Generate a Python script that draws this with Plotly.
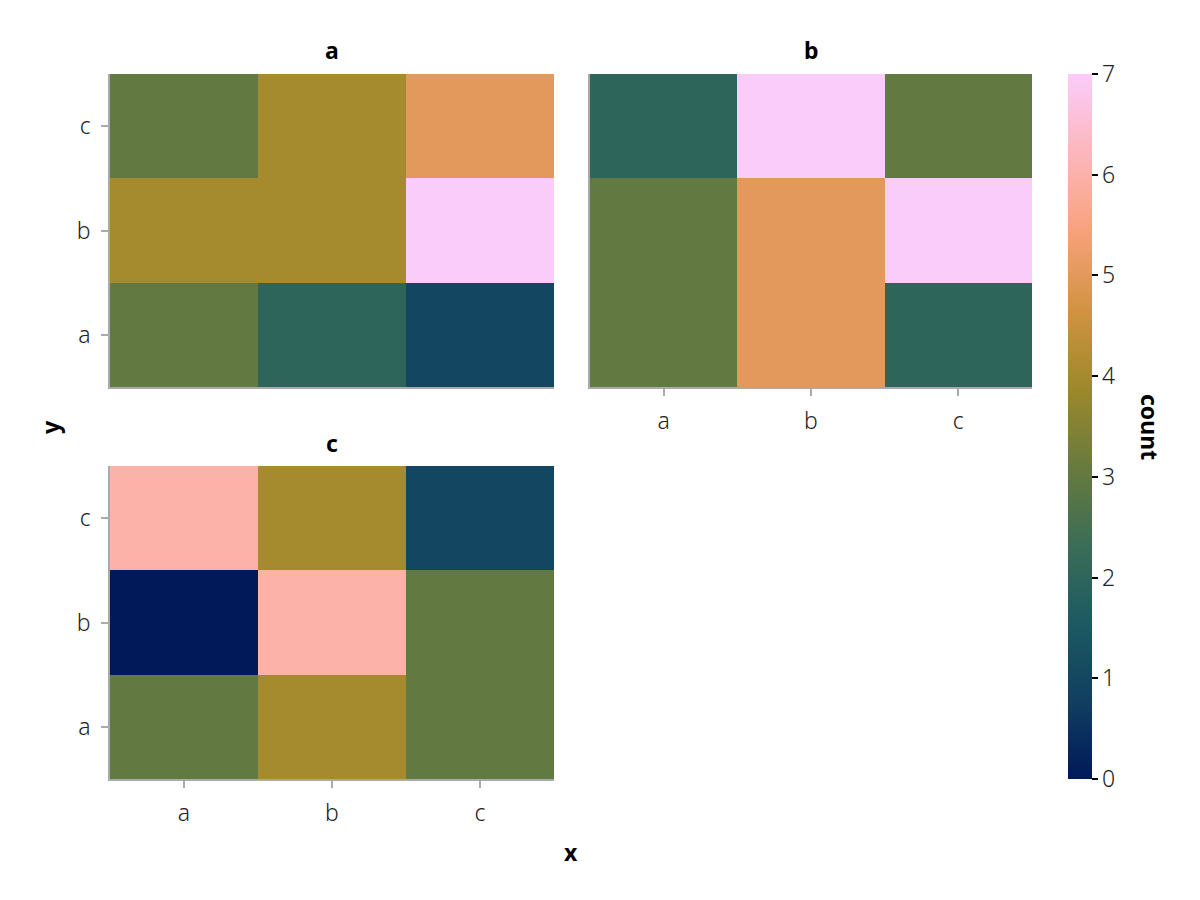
import plotly.graph_objects as go

cats = ["a", "b", "c"]
panels = ["a", "b", "c"]
# z[row=y][col=x], rows ordered y = a, b, c
z_a = [[3, 2, 1], [4, 4, 7], [3, 4, 5]]
z_b = [[3, 5, 2], [3, 5, 7], [2, 7, 3]]
z_c = [[3, 4, 3], [0, 6, 3], [6, 4, 1]]
zs = [z_a, z_b, z_c]

batlow = ["#011959", "#103F60", "#1C5A62", "#3C6D56", "#687B3E",
          "#9D892B", "#D29343", "#F8A17B", "#FDB7BC", "#FACCFA"]
colorscale = [[i / (len(batlow) - 1), c] for i, c in enumerate(batlow)]

W, H = 1200, 900
OFF = 8  # browser body margin
FONT = "Noto Sans"
AX = "#AAAAAA"
TICKFONT = dict(family=FONT, size=23, color="#222", weight=300)

def fx(px):
    return (px - OFF) / W

def fy(py):
    return 1 - (py - OFF) / H

fig = go.Figure()
doms = [
    ([fx(110), fx(554)], [fy(387), fy(74)]),
    ([fx(590), fx(1032)], [fy(387), fy(74)]),
    ([fx(110), fx(554)], [fy(779), fy(466)]),
]
title_pos = [(332, 50), (811, 50), (332, 443)]
show_x = [False, True, True]
show_y = [True, False, True]

for i, (z, (xd, yd)) in enumerate(zip(zs, doms)):
    n = "" if i == 0 else str(i + 1)
    fig.add_trace(go.Heatmap(x=cats, y=cats, z=z, coloraxis="coloraxis",
                             xaxis="x" + n, yaxis="y" + n, xgap=0, ygap=0))
    common = dict(showgrid=False, zeroline=False, showline=True, linecolor=AX,
                  linewidth=1.5, tickfont=TICKFONT, ticklabelstandoff=6,
                  type="category", fixedrange=True)
    fig.layout["xaxis" + n] = dict(domain=xd, anchor="y" + n,
                                   ticks="outside" if show_x[i] else "",
                                   ticklen=7, tickwidth=1.5, tickcolor=AX,
                                   showticklabels=show_x[i], **common)
    fig.layout["yaxis" + n] = dict(domain=yd, anchor="x" + n,
                                   ticks="outside" if show_y[i] else "",
                                   ticklen=7, tickwidth=1.5, tickcolor=AX,
                                   showticklabels=show_y[i], **common)

def ann(text, px, py, angle=0):
    return dict(text=text, x=fx(px), y=fy(py), xref="paper", yref="paper",
                xanchor="center", yanchor="middle", showarrow=False, textangle=angle,
                font=dict(family=FONT, size=23, color="black"))

annots = []
for name, (tx, ty) in zip(panels, title_pos):
    annots.append(ann("<b>" + name + "</b>", tx, ty))
annots.append(ann("<b>x</b>", 571, 852))
annots.append(ann("<b>y</b>", 50, 427, -90))
annots.append(ann("<b>count</b>", 1150, 427, 90))

fig.update_layout(
    width=W, height=H,
    margin=dict(l=0, r=0, t=0, b=0),
    paper_bgcolor="white", plot_bgcolor="white",
    annotations=annots,
    coloraxis=dict(
        colorscale=colorscale, cmin=0, cmax=7,
        colorbar=dict(x=fx(1068), xanchor="left", y=fy(779), yanchor="bottom",
                      len=705 / H, lenmode="fraction", thickness=24,
                      xpad=0, ypad=0,
                      outlinewidth=0, ticks="outside", ticklen=6, tickwidth=1.5,
                      tickcolor="black", tickvals=list(range(8)),
                      tickfont=TICKFONT),
    ),
)

fig.write_html("out.html")
